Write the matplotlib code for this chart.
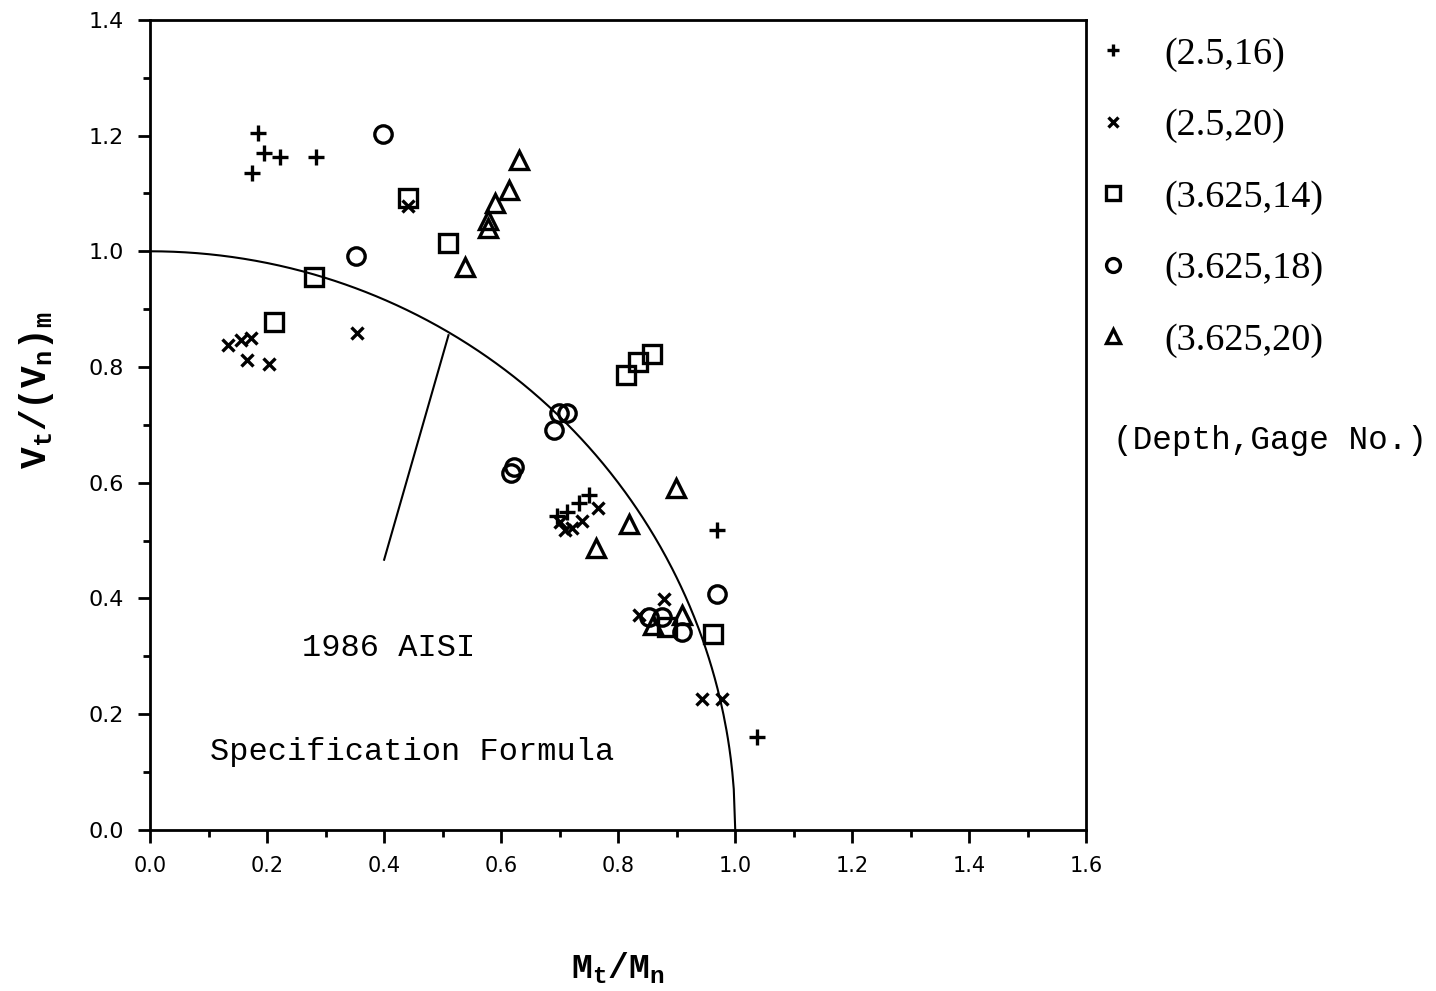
import numpy as np
import matplotlib
matplotlib.use('Agg')
import matplotlib.pyplot as plt
from matplotlib.ticker import MultipleLocator, FormatStrFormatter

plt.rcParams['mathtext.fontset'] = 'custom'
plt.rcParams['mathtext.rm'] = 'Liberation Mono:bold'
plt.rcParams['mathtext.it'] = 'Liberation Mono:bold'

# (depth, gage no.) test series: Mt/Mn and Vt/(Vn)m
x_2p5_16 = [0.184, 0.195, 0.222, 0.283, 0.174, 0.695, 0.712, 0.733, 0.750, 0.969, 1.038]
y_2p5_16 = [1.205, 1.170, 1.163, 1.163, 1.135, 0.543, 0.550, 0.565, 0.579, 0.518, 0.161]

x_2p5_20 = [0.133, 0.155, 0.172, 0.166, 0.203, 0.353, 0.440, 0.700, 0.709, 0.721, 0.738,
            0.766, 0.836, 0.879, 0.943, 0.978]
y_2p5_20 = [0.838, 0.847, 0.850, 0.812, 0.805, 0.859, 1.078, 0.532, 0.518, 0.522, 0.534,
            0.556, 0.372, 0.399, 0.226, 0.226]

x_3625_14 = [0.440, 0.510, 0.281, 0.212, 0.814, 0.834, 0.857, 0.884, 0.962]
y_3625_14 = [1.092, 1.015, 0.956, 0.878, 0.786, 0.809, 0.823, 0.351, 0.339]

x_3625_18 = [0.398, 0.352, 0.698, 0.712, 0.690, 0.617, 0.622, 0.969, 0.853, 0.874, 0.909]
y_3625_18 = [1.203, 0.992, 0.721, 0.721, 0.691, 0.617, 0.627, 0.408, 0.368, 0.368, 0.342]

x_3625_20 = [0.631, 0.614, 0.590, 0.577, 0.577, 0.538, 0.898, 0.819, 0.762, 0.909, 0.859]
y_3625_20 = [1.158, 1.106, 1.084, 1.054, 1.040, 0.973, 0.591, 0.529, 0.487, 0.372, 0.354]

labels = ['(2.5,16)', '(2.5,20)', '(3.625,14)', '(3.625,18)', '(3.625,20)']

# pointer line from the curve to the annotation
ptr_x = [0.510, 0.400]
ptr_y = [0.855, 0.467]

fig = plt.figure(figsize=(14.36, 9.91), dpi=100)
ax = fig.add_axes([0.1045, 0.1625, 0.652, 0.8175])

# 1986 AISI interaction curve (Mt/Mn)^2 + (Vt/Vn)^2 = 1
cx = np.linspace(0, 1, 400)
ax.plot(cx, np.sqrt(1 - cx**2), color='black', lw=1.5)
ax.plot(ptr_x, ptr_y, color='black', lw=1.5)

mk = dict(linestyle='none', color='black', markerfacecolor='none', markeredgewidth=2.4)
h1, = ax.plot(x_2p5_16, y_2p5_16, marker='+', markersize=11.5, **mk)
h2, = ax.plot(x_2p5_20, y_2p5_20, marker='x', markersize=9, **mk)
h3, = ax.plot(x_3625_14, y_3625_14, marker='s', markersize=13, **mk)
h4, = ax.plot(x_3625_18, y_3625_18, marker='o', markersize=12.5, **mk)
h5, = ax.plot(x_3625_20, y_3625_20, marker='^', markersize=13, **mk)

ax.set_xlim(0, 1.6)
ax.set_ylim(0, 1.4)
ax.xaxis.set_major_locator(MultipleLocator(0.2))
ax.xaxis.set_minor_locator(MultipleLocator(0.1))
ax.yaxis.set_major_locator(MultipleLocator(0.2))
ax.yaxis.set_minor_locator(MultipleLocator(0.1))
ax.xaxis.set_major_formatter(FormatStrFormatter('%.1f'))
ax.yaxis.set_major_formatter(FormatStrFormatter('%.1f'))
ax.tick_params(which='both', direction='out', width=2, top=False, right=False)
ax.tick_params(which='major', length=9, pad=10)
ax.tick_params(which='minor', length=5)
ax.tick_params(axis='x', which='major', labelsize=15)
ax.tick_params(axis='y', which='major', labelsize=16)
for s in ax.spines.values():
    s.set_linewidth(2)

ax.set_xlabel(r'$\mathrm{M_t/M_n}$', fontsize=25)
ax.set_ylabel(r'$\mathrm{V_t/(V_n)_m}$', fontsize=26)
ax.xaxis.set_label_coords(0.5, -0.148)
ax.yaxis.set_label_coords(-0.1, 0.543)

ax.text(0.408, 0.315, '1986 AISI', family='Liberation Mono', fontsize=23,
        ha='center', va='center')
ax.text(0.447, 0.135, 'Specification Formula', family='Liberation Mono', fontsize=23,
        ha='center', va='center')

leg = fig.legend([h1, h2, h3, h4, h5], labels, loc='upper left',
                 bbox_to_anchor=(0.7405, 0.990), frameon=False, markerscale=0.8,
                 prop={'family': 'Liberation Serif', 'size': 27.5}, borderpad=0.2,
                 labelspacing=0.96, handletextpad=0.75, handlelength=1.2)
fig.text(0.775, 0.555, '(Depth,Gage No.)', family='Liberation Mono', fontsize=23.5,
         ha='left', va='center')

fig.savefig('out.png', dpi=100)
